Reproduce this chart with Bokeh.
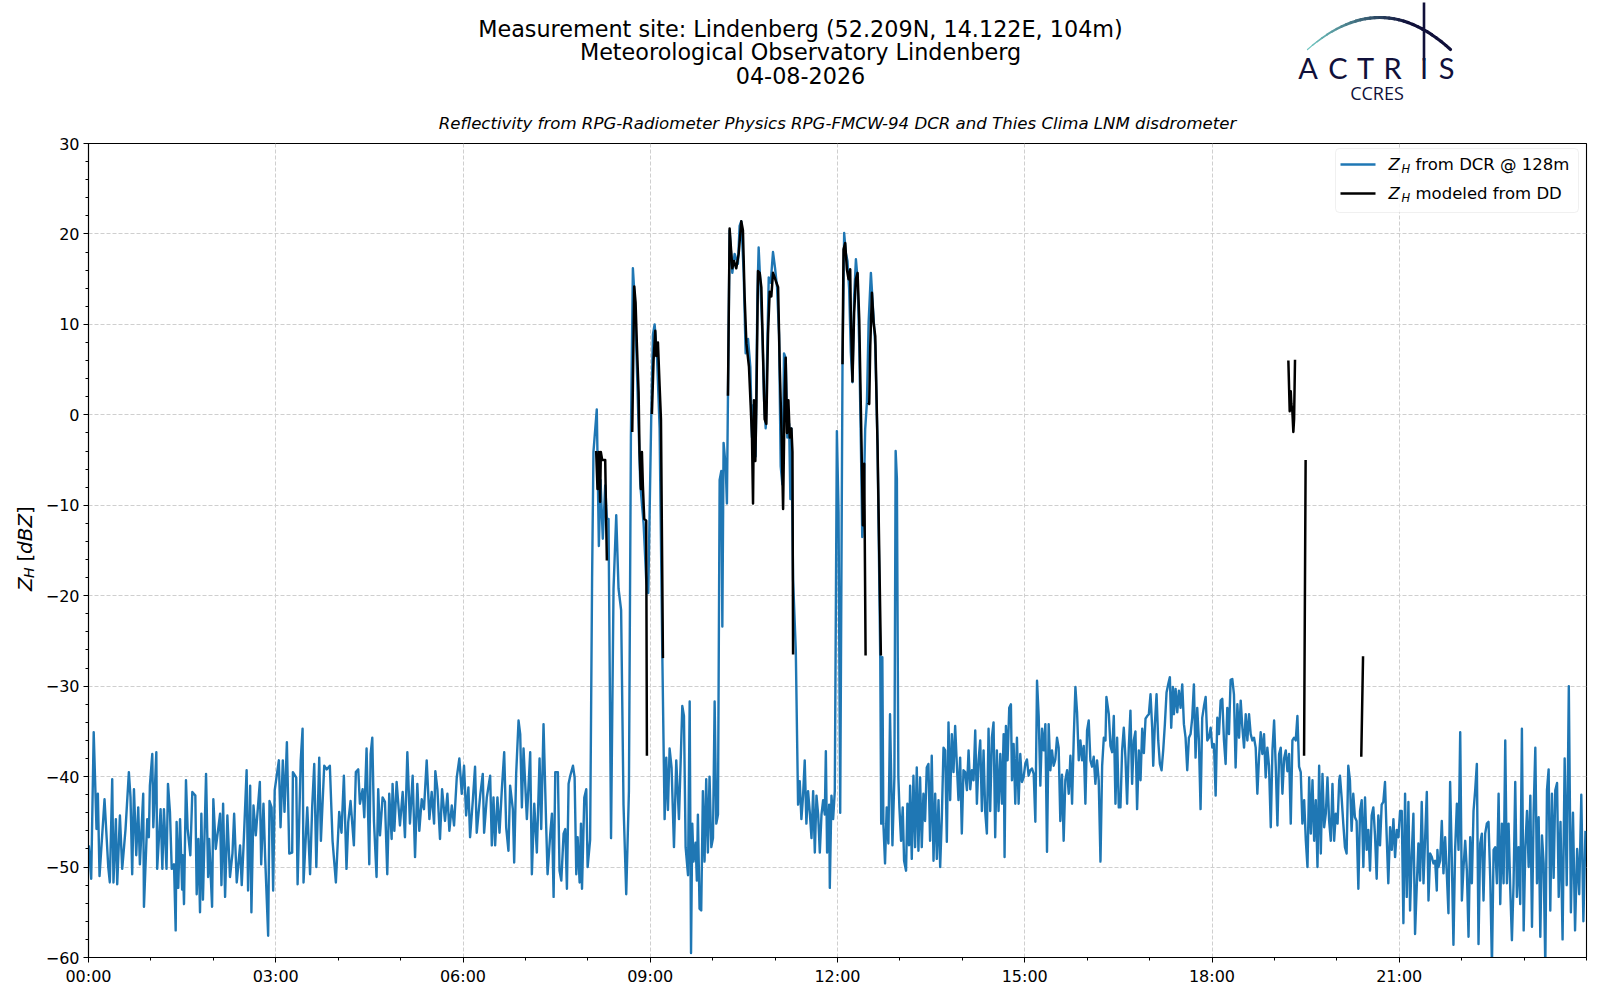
import numpy as np
from bokeh.plotting import figure
from bokeh.models import Range1d, FixedTicker, Label, BoxAnnotation, Arrow, ColumnDataSource
from bokeh.layouts import column, row
from bokeh.embed import file_html
from bokeh.resources import INLINE
from bokeh.core.properties import value

# ---------------- texts ----------------
TITLE_LINES = ["Measurement site: Lindenberg (52.209N, 14.122E, 104m)",
               "Meteorological Observatory Lindenberg",
               "04-08-2026"]
SUBTITLE = "Reflectivity from RPG-Radiometer Physics RPG-FMCW-94 DCR and Thies Clima LNM disdrometer"
LEGEND_DCR = "from DCR @ 128m"
LEGEND_DD = "modeled from DD"
LOGO_LETTERS = ["A", "C", "T", "R", "I", "S"]
LOGO_SUB = "CCRES"
YLABEL_PARTS = ["Z", "H", "[", "dBZ", "]"]

# ---------------- ticks ----------------
X_TICK_HOURS = [0, 3, 6, 9, 12, 15, 18, 21]
X_TICK_LABELS = ["00:00", "03:00", "06:00", "09:00", "12:00", "15:00", "18:00", "21:00"]
Y_TICKS = [-60, -50, -40, -30, -20, -10, 0, 10, 20, 30]
Y_TICK_LABELS = ["\u221260", "\u221250", "\u221240", "\u221230", "\u221220", "\u221210", "0", "10", "20", "30"]

# ---------------- data: (minute of day, dBZ) ----------------
dcr_points = [
 (0.3,-47.6),(2.6,-51.3),(5,-35.1),(7.7,-45.8),(9,-41.9),(10.6,-51),(15.4,-42.5),(19,-50),(20.5,-51.7),(22.8,-40.3),
 (24,-51.7),(26.3,-44.7),(27.6,-51.9),(30.2,-44.3),(32.4,-50.2),(35.6,-45.8),(38.8,-39.5),(40.4,-42.3),(42,-50.8),(43.7,-41.4),
 (45.9,-48.7),(47.8,-43.4),(49.4,-49.7),(52.6,-41.9),(53.3,-54.4),(56.5,-44.7),(58,-46.7),(59,-41),(61.3,-37.5),(62.3,-45.6),
 (65.2,-37.3),(66,-50.2),(69.3,-43.6),(71,-50.2),(72.5,-43.6),(75,-50.2),(76.4,-40.8),(78.3,-43.9),(80,-50.2),(82.2,-49.7),
 (83.8,-57),(84.7,-45),(86.3,-52.3),(88,-44.7),(90,-52.5),(90.5,-48.7),(91.8,-54.1),(93.7,-40.4),(95.3,-45.8),(97.9,-48.7),
 (99.8,-41.7),(102.7,-42.1),(104,-53),(105.6,-46.9),(107.2,-55),(108.5,-44.1),(110,-53.6),(113,-39.7),(115,-51.1),(116,-46.9),
 (118.8,-54.4),(120,-42.5),(122.3,-48),(126.5,-44.1),(127.8,-52),(129.4,-43),(131.3,-53.3),(133.5,-44.3),(136,-51.1),(138.4,-48.5),
 (140,-44.1),(142.5,-51.7),(145.7,-47.6),(147.3,-52),(149,-47.8),(152,-39.3),(153.4,-52.6),(155.4,-41),(156.6,-55),(158.6,-43.2),
 (160.8,-46.5),(164.7,-40.6),(166,-49.7),(168.2,-43),(169.8,-48.9),(172.7,-57.6),(174,-42.7),(176,-43.4),(177.5,-52.6),(179,-41.5),
 (183,-38.2),(184.6,-45.6),(186.8,-38.2),(188.4,-43.9),(190.7,-36.2),(193,-48.5),(195.8,-48.4),(196.5,-39.5),(199.7,-40.1),(201,-51.9),
 (204,-38.2),(205.8,-34.7),(206.7,-51.7),(210.3,-43.4),(213,-50.8),(215,-43.4),(217,-38.6),(219,-50),(221.8,-37.9),(223.4,-47.1),
 (226.6,-38.8),(229,-39.2),
 (232,-38.8),(234.6,-47.1),(237.8,-51.7),(239.1,-48.5),(241,-43.9),(243.2,-46.2),(245.5,-39.9),(248,-50.2),(249.7,-45),(251.9,-42.7),
 (255.1,-47.6),(257,-39.5),(259.3,-39.2),(260.9,-43),(263.5,-41.4),(265.1,-44.5),(267.3,-36.9),(269.9,-49.7),(271.2,-37.5),(272.8,-35.7),
 (274.4,-44.9),(276.9,-51.1),(278.5,-41.4),(280.2,-46.5),(282.7,-42.3),(285,-42.8),(287.2,-50.8),(289.1,-41.9),(291.4,-46.9),(292.3,-40.8),
 (294,-46),(296.2,-40.6),(299.4,-45.4),(302,-41.7),(304.2,-46.7),(306.5,-37.3),(309,-45.2),(311.6,-39.9),(313.9,-48.9),(316.1,-40.8),
 (318,-46),(320.3,-42.5),(322.5,-43.6),(325.1,-38.2),(327.7,-44.7),(329.9,-41.7),(332.2,-45.2),(333.4,-39.4),(335.4,-41.4),(337.9,-46.9),
 (339.9,-41.4),(342.7,-44.9),(345,-41.9),(346.9,-46),(349.2,-43.2),(351.4,-45.4),(354,-40.1),(356.5,-38),(358.8,-41.9),(361,-38.8),
 (363,-44.3),(365.2,-41.2),(366.8,-46.7),(369.4,-42.7),(371.6,-38.9),(373.2,-46.2),(376.5,-42.1),(379,-39.7),(380.3,-46.2),(382.9,-42.3),
 (386.1,-39.9),(387.7,-47.6),(389.3,-42.3),(390.9,-47.6),(393.1,-42.3),(395.1,-46.2),(397.3,-41.5),(399.6,-37.3),(401.5,-45.6),(403.7,-48.2),
 (405.3,-41),(407.9,-43.6),(409.2,-49.5),(411.1,-39.7),(413.4,-33.8),(415,-35.3),(416.6,-43.4),(418.2,-36.9),(421.4,-44.7),(424.6,-37.3),
 (426.2,-50.8),(428.5,-43),(431,-48.4),(433.6,-38),(435.2,-45.8),(437.4,-34.2),(440,-45.6),(441.3,-50.8),(443.9,-46.3),(445.5,-44.1),
 (447.1,-53.3),(448.7,-39.5),(451.2,-39.5),(452.8,-50.4),(454.5,-51.5),(456.7,-46.3),(458.3,-45.8),(459.9,-52.4),(461.5,-40.8),(463.1,-39.9),
 (465.7,-38.8),(467.3,-40.1),(468.9,-50.8),(470.2,-46.7),(472.1,-51.7),(473.4,-45.2),(474.4,-52.4),(476.6,-42.3),(478.5,-41.4),(479.8,-50),
 (482.2,-47),(484.1,-18),(485.4,-4.1),(488.6,0.6),(490.6,-14.5),(492.2,-7.2),(494.4,-13.7),(496.7,-7.8),(498.3,-11.5),(499.9,-11.5),
 (502.3,-46.8),(504.7,-19.2),(507.3,-11.1),(509.5,-19.2),(512,-21.6),(514.3,-43.1),(516.9,-53),(519.5,-41.6),(521.4,-2.5),(523.3,16.2),
 (525.2,12.6),(527.8,2.7),(530.4,-7.7),(533.6,-12),(536.1,-18.2),(538.1,-19.7),(541,0.1),(542.6,8.9),(544.2,10),(546.4,6.8),
 (549,-1.5),(551.6,-26.5),(553.8,-44.7),(555.4,-37.9),(557,-43.7),(558.6,-36.9),(560.5,-39),(562.8,-47.8),(565,-38.2),(567.6,-44.7),
 (570.8,-32.2),(572.4,-33.3),(574,-47.8),(576.3,-50.9),(577.9,-31.7),(579.2,-59.5),
 (580.4,-45.2),(581.6,-49.4),(583.6,-47.3),(584.8,-51.5),(585.8,-44.2),(587.4,-54.6),(589,-54.8),(590.6,-41.6),(592.2,-49.4),(593.8,-40.3),
 (595.4,-48.4),(597,-40),(598.7,-47.8),(600.3,-46.8),(601.9,-31.7),(603.5,-45.2),(605.1,-44.2),(606.7,-7.2),(608.3,-6.2),(609.3,-23.4),
 (610.5,-3.1),(612.5,-5.7),(613.7,-9.8),(614.7,2.1),(616.3,20.4),(618.9,15.7),(621.1,17.8),(624.3,16.7),(625.9,20.9),(627.5,21.4),
 (629.8,15.7),(631.7,6.8),(634,8.4),(636.2,5.3),(637.8,-2.5),(639.4,1.1),(641.3,-4.6),(643,13.1),(644.2,18.5),(645.8,14.6),
 (647.8,8.9),(649.4,1.6),(651,-1.5),(652.6,7.9),(653.9,15.2),(655.8,14.6),(658,18),(660,16.2),(661.9,14.1),(663.8,8.9),
 (665.4,-5.7),(667,-7.7),(668.6,6.8),(670.2,6.3),(671.8,-2.5),(673.5,-1),(674.7,-9.3),(675.7,-1.5),(677.3,-18.2),(679.9,-26),
 (682.1,-43.1),(683.7,-40.5),(685.3,-44.7),(686.9,-42.1),(688.5,-38.2),(690.1,-45.2),(691.7,-41.6),(693.4,-44),(695,-46.8),(696.6,-41.6),
 (698.2,-48.4),(699.8,-42.1),(701.4,-44.2),(703,-48.4),(704.6,-44.2),(706.2,-42.6),(707.8,-44.2),(708.8,-37.2),(710,-48.4),(712,-43.1),
 (712.6,-52.3),(714.2,-42.1),(715.8,-44.7),(717.4,-41.6),
 (719.4,-1.8),(721,-10.8),(722.6,-44),(724.8,5.4),(726.4,20.1),(728,17.9),(729.6,17),(731.2,13.9),(732.8,6.9),(734.4,3.6),
 (736,13.1),(737.7,17.2),(739.3,15),(740.9,7.6),(742.5,-3.4),(743.8,-13.5),(745,-10.8),(746.6,-1.6),(748.3,1.4),(749.9,10.2),
 (752.1,15.7),(754,12),(756.3,7.6),(758.5,-3.4),(761.1,-27),(762,-45.2),(763.1,-26.8),(764.1,-45.2),(765.7,-49.6),(767.3,-43.4),
 (768.9,-47.4),(770.5,-33.1),(772.8,-47.6),(774.7,-40),(775.9,-4),(777.1,-7.1),(778.5,-40),(779.5,-43.4),
 (781.1,-47.1),(782.7,-43.4),(784,-49.3),(785.9,-50.4),(787.2,-43),(788.8,-47.6),(789.8,-41),(791.4,-49.1),(793,-39.9),(794.6,-47.8),
 (796.2,-39),(797.8,-48.2),(799.4,-40.1),(801,-47.8),(802.6,-41.9),(804.2,-44.9),(805.8,-39),(807.4,-38.6),(809,-47.1),(810.6,-37.7),
 (812.3,-49.3),(813.9,-41.9),(815.5,-49.1),(817.1,-42.6),(818.7,-50),(820.3,-44.5),(821.9,-36.8),(823.5,-37.1),(825.1,-47.2),(826.7,-34),
 (828.3,-42.6),(829.9,-35.3),(831.5,-39.5),(833.1,-34.4),(834.7,-38.6),(836.3,-42.6),(837.9,-37.9),(839.5,-46.3),(841.1,-39.3),(842.7,-39.5),
 (844.4,-41.5),(846,-37.1),(847.6,-41.4),(849.2,-39.3),(850.8,-40.4),(852.4,-34.9),(854,-43),(855.6,-38.2),(857.2,-36),(858.8,-43.8),
 (860.4,-37.1),(862,-43.9),(863.6,-46.3),(865.2,-34.7),(866.8,-43.8),(868.4,-35.7),(870,-34),(871.6,-46.7),(873.2,-37.1),(874.8,-43.8),
 (876.5,-37.5),(878.1,-43),(879.7,-35.3),(880.6,-48.9),(881.9,-34.4),(883.5,-38.2),(885.1,-32.4),(886.7,-32),(887.7,-40.4),(889.3,-36.4),
 (890.9,-43),(892.5,-35.7),(894.1,-43),(895.7,-37.5),(897.3,-40.6),(898.9,-40.1),(900.5,-38.6),(902.1,-38.1),(903.7,-39.9),(905.3,-39.3),
 (906.9,-39.1),(908.6,-39.7),(910.2,-45),(911.8,-29.4),(913.4,-33.3),(915,-41),(916.6,-34.7),(918.2,-37.1),(919.8,-34.2),(921.4,-48.3),
 (923,-34.2),(924.6,-39.3),(926.2,-37.1),(927.8,-38.8),(929.4,-38.1),(931,-35.7),(932.6,-36.8),(934.2,-44.9),(935.8,-39.8),(937.4,-47.1),
 (939,-40.4),(940.7,-39.3),(942.3,-41.9),(943.9,-37.7),(945.5,-43),(947.1,-35.7),(948.7,-30.1),(950.3,-32.9),(951.9,-38.2),(953.5,-36),
 (955.1,-38.2),(956.7,-36.6),(958.3,-43),(959.9,-34.9),(961.5,-33.8),(963.1,-38.2),(964.7,-38.9),(966.3,-37.8),(967.9,-40.8),(969.5,-38.2),
 (971.1,-40.4),(972.8,-49.4),(974.4,-38.8),(976,-35.7),(977.6,-36),(978.5,-31.2),(980.8,-33.1),(982.4,-36.6),(984,-37.3),(985.6,-33.3),
 (987.2,-43),(988.8,-35.7),(990.4,-43.4),
 (992,-43.4),(993.6,-37.1),(995.2,-34.6),(996.8,-37.9),(998.4,-43),(1000,-36.8),(1001.6,-32.7),(1003.2,-40.8),(1004.8,-36),(1006.4,-35),
 (1008,-43.6),(1009.7,-37.1),(1011.3,-40.4),(1012.9,-34.7),(1014.5,-37.4),(1016.1,-33.6),(1017.7,-33.3),(1019.3,-33.1),(1020.9,-30.9),(1022.5,-34.6),
 (1023.5,-38.8),(1025.1,-34.2),(1026.7,-30.9),(1028.3,-36),(1029.9,-38.6),(1031.5,-39.3),(1033.1,-37.1),(1034.7,-34.2),(1036.3,-30.7),(1037.9,-29.8),
 (1039.5,-29),(1040.8,-34.6),(1042.4,-30.1),(1043.4,-33.1),(1045,-30.3),(1046.6,-32.9),(1048.2,-30.5),(1049.8,-32.4),(1051.4,-29.8),(1053,-34.2),
 (1054.6,-35.7),(1056.2,-39.3),(1057.8,-35.7),(1059.4,-35.3),(1061,-33.5),(1062.6,-29.8),(1064.2,-37.9),(1065.8,-32.4),(1067.4,-36),(1069,-43.6),
 (1070.6,-33.5),(1072.3,-32.2),(1073.9,-31.2),(1075.5,-36),(1077.1,-35.7),(1078.7,-34.6),(1080.3,-36.8),(1081.9,-36.4),(1083.5,-42.1),(1085.1,-33.5),
 (1086.7,-35.3),(1088.3,-31.6),(1089.9,-31.4),(1091.5,-36),(1093.1,-38.6),(1094.7,-32.4),(1096.3,-35.3),(1097.9,-29.3),(1099.5,-29.2),(1101.1,-30.9),
 (1102.7,-39),(1104.4,-32),(1106,-35.7),(1107.6,-31.6),(1109.2,-34.6),(1110.8,-36.8),(1112.4,-33.1),(1114,-36),(1115.6,-33.1),(1117.2,-35.3),
 (1118.8,-36),(1120.4,-35.7),(1122,-36.8),(1123.6,-41.9),(1125.2,-37.9),(1126.8,-35.1),(1128.4,-37.5),(1130,-35.3),(1131.6,-40.1),(1133.2,-36.8),
 (1134.8,-38.8),(1136.5,-45.6),(1138.1,-37.1),(1139.7,-33.8),(1141.3,-38.9),(1142.9,-45.4),(1144.5,-37.5),(1146.1,-36.8),(1147.7,-41.9),(1149.3,-38),
 (1150.9,-37.1),(1152.5,-39.4),(1154.1,-37.5),(1155.7,-45.2),(1157.3,-36),(1158.9,-35.7),(1160.5,-36),(1162.1,-33.3),(1163.7,-38.9),(1165.3,-39.5),
 (1166.9,-45.2),(1168.6,-42.6),(1170.2,-47.1),(1171.8,-50),(1173.4,-40.1),(1175,-46.3),(1176.6,-40.4),(1178.2,-47.1),(1179.8,-42.6),(1181.4,-50),
 (1183,-38.8),(1184.6,-48.5),(1186.2,-39.7),(1187.8,-45.6),(1189.4,-44.1),(1191,-40.1),(1192.6,-44.9),(1194.2,-47.1),(1195.8,-40.8),(1197.4,-47.1),
 (1199,-44.1),(1200.7,-45.2),(1202.3,-40.4),
 (1203,-39.9),(1204.6,-42.3),(1206.2,-45.2),(1207.8,-47.8),(1209.4,-48.5),(1211,-38.8),(1212.6,-40.4),(1214.2,-46),(1215.8,-41.9),(1217.4,-44.5),
 (1219,-44.9),(1220.7,-52.4),(1222.3,-43.8),(1223.9,-42.6),(1225.5,-50),(1227.1,-42.3),(1228.7,-48.1),(1230.3,-45.9),(1231.9,-50.4),(1233.5,-44.3),
 (1235.1,-43.4),(1236.7,-46.5),(1238.3,-51.3),(1239.9,-44.3),(1241.5,-47.6),(1243.1,-43.1),(1244.7,-42.8),(1246.3,-40.6),(1247.9,-46.5),(1249.5,-51.8),
 (1251.2,-45.6),(1252.8,-48.1),(1254.4,-44.7),(1256,-48.9),(1257.6,-45.9),(1259.2,-46.7),(1260.8,-43.8),(1262.4,-43.8),(1264,-56.2),(1265.6,-41.9),
 (1267.2,-53.3),(1268.8,-42.8),(1270.4,-54.8),(1272,-48.6),(1273.6,-44.1),(1275.2,-57.4),(1276.8,-52.2),(1278.4,-47.4),(1280,-51.5),(1281.6,-42.8),
 (1283.3,-51.8),(1284.9,-46.7),(1286.5,-41.7),(1288.1,-53.7),(1289.7,-48.5),(1291.3,-48.9),(1292.9,-49.6),(1294.5,-49.3),(1296.1,-52.6),(1296.7,-48.1),
 (1297.7,-50),(1299.3,-49.3),(1300.9,-44.9),(1302.5,-50.7),(1304.1,-46.7),(1305.7,-50.7),(1307.3,-55.1),(1308.9,-40.6),(1310.5,-48.9),(1312.1,-58.6),
 (1313.7,-48.1),(1315.4,-43),(1317,-48.1),(1318.6,-35.1),(1320.2,-53.7),(1321.8,-50),(1323.4,-47.1),(1325,-50.4),(1326.6,-57.7),(1328.2,-46.7),
 (1329.8,-51.8),(1331.4,-43.8),(1333,-41.5),(1334.6,-38.6),(1336.2,-58.5),(1337.8,-47.4),(1339.4,-46.3),(1341,-53.7),(1342.6,-46.3),(1344.2,-45.2),
 (1345.8,-45),(1347.5,-51.4),(1349.1,-61),(1350.7,-48.1),(1352.3,-47.8),(1353.9,-51.8),(1355.5,-41.9),(1357.1,-54.1),(1358.7,-45.2),(1360.3,-51.8),
 (1361.9,-36),(1363.5,-51.8),(1365.1,-45.2),(1366.7,-52.4),(1368.3,-58.1),(1369.9,-51.8),(1371.5,-40.6),(1373.1,-53.3),(1374.7,-47.8),(1376.3,-54.1),
 (1377.9,-34.7),(1379.6,-57),(1381.2,-47.8),(1382.8,-43.8),(1384.4,-50),(1386,-42.1),(1387.6,-56.6),(1389.2,-43.8),(1390.8,-36.8),(1392.4,-51.8),
 (1394,-44.5),(1395.6,-57.7),(1397.2,-46.5),(1398.8,-49.6),(1400.4,-61),(1402,-41.5),(1403.6,-39.2),(1405.2,-54.8),(1406.8,-41.9),(1408.4,-51.2),
 (1410,-41.5),(1411.7,-40.7),(1413.3,-53.3),
 (1415,-45),(1417,-58),(1419,-38),(1421,-52),(1423,-30),(1425,-55),(1427,-44),(1429,-57),(1431,-48),(1433,-53),
 (1435,-42),(1437,-56),(1439,-46),
]

dd_segments = [
 [(488,-4),(489.3,-8.2),(490.6,-4.1),(491.8,-9.6),(492.5,-4.1),(493.8,-5),(496.7,-5),(497.6,-11.5),(498.3,-16.1)],
 [(522.7,-1.9),(524.6,14.2),(525.9,12.4),(527.2,7.6),(528.8,2.5),(529.7,-4.1),(531,-8.2),(532,-4.1),(532.9,-7.8),(534.2,-11.5),(536.1,-11.7),(536.8,-37.7)],
 [(541.6,0.1),(543.2,6.1),(544.8,9.3),(545.8,6.5),(547.4,8),(549,3.2),(550.3,-0.5),(552.2,-26.9)],
 [(614.7,2.1),(616.3,20.6),(618.9,16.2),(620.5,17),(622.7,16.2),(625,17.8),(627.5,21.4),(629.1,20.4),(630.7,13.1),(632.4,7.9),
  (634.9,5.3),(636.5,1.1),(637.8,-2.5),(638.8,-9.8),(639.7,1.6),(641,-5.1),(642,1.1),(643.6,15.9),(645.2,15.7),(646.8,14.1),
  (648.4,6.8),(650,-0.5),(651.6,-1),(653.2,8.9),(654.8,13.6),(656.4,13.1),(658,15.7),(659.6,15.2),(661.3,14.6),(662.9,14.1),
  (664.5,5.3),(666.1,-1.5),(667.7,-10.4),(669.3,2.7),(670.2,6.3),(671.5,-2),(672.8,1.6),(674.1,-2.5),(675.7,-1.5),(676.7,-4.1),(677.3,-26.5)],
 [(724.8,5.6),(725.8,18.3),(727.4,19),(729,16.1),(730.6,15),(732.2,16.1),(732.8,11.3),(734.4,3.7),(736,11.3),(737.7,15),
  (739.3,15.7),(740.9,10.6),(743.4,-5.3),(744.4,-12.2),(745.7,-5.4),(747,-26.6)],
 [(749.2,1.4),(750.5,1.2),(751.5,7.6),(753.1,13.5),(754.7,10.2),(756.3,8.7),(758.5,-3.4),(761.7,-26.6)],
 [(1153.4,6),(1154.7,0.4),(1155.7,2.6),(1156.3,1.2),(1157.3,0.3),(1158.2,-1.9),(1158.9,-0.5),(1159.8,6.1)],
 [(1168.5,-37.7),(1170,-5)],
 [(1223.5,-37.8),(1225.2,-26.7)],
]

# ---------------- build series ----------------
dcr_sorted = sorted(dcr_points)
t_dcr = [m / 60.0 for m, _ in dcr_sorted]
z_dcr = [v for _, v in dcr_sorted]
t_dd, z_dd = [], []
for seg in dd_segments:
    for m, v in seg:
        t_dd.append(m / 60.0)
        z_dd.append(v)
    t_dd.append(np.nan)
    z_dd.append(np.nan)

BLUE = "#1f77b4"
NAVY = "#10103a"
FONT = "DejaVu Sans"

# page geometry (pixels from the page's top-left)
YL_W = 40                      # width of the y-label strip
MAIN_BL, MAIN_BR = 48, 6       # main borders -> frame from x=88 to x=1586
MAIN_W = 1552
HEAD_H = 133
MAIN_BT, MAIN_BB = 10, 34
MAIN_H = MAIN_BT + 814 + MAIN_BB
FRAME_L = YL_W + MAIN_BL
FRAME_R = YL_W + MAIN_W - MAIN_BR

def blank(fig):
    fig.axis.visible = False
    fig.grid.visible = False
    fig.outline_line_color = None
    fig.background_fill_color = "white"
    fig.border_fill_color = "white"

# ---------------- header figure (x,y in page pixels) ----------------
head = figure(width=MAIN_W, height=HEAD_H, x_range=Range1d(FRAME_L, FRAME_R), y_range=Range1d(HEAD_H, 0),
              toolbar_location=None, output_backend="svg",
              min_border_left=MAIN_BL, min_border_right=MAIN_BR, min_border_top=0, min_border_bottom=0)
blank(head)
head.text(x=[800, 800, 800], y=[28.6, 51.1, 74.6], text=TITLE_LINES,
          text_font=value(FONT), text_font_size=value("22.3px"), text_color="black",
          text_align=value("center"), text_baseline=value("middle"))
head.text(x=[837], y=[123.0], text=[SUBTITLE], text_font=value(FONT), text_font_style=value("italic"),
          text_font_size=value("16.6px"), text_color="black",
          text_align=value("center"), text_baseline=value("middle"))

# logo: arc with teal->navy gradient, antenna line, letters
p0, c, p2 = np.array([1307.0, 49.0]), np.array([1380.0, -15.0]), np.array([1450.0, 49.0])
ss = np.linspace(0, 1, 31)
pts = [(1 - s) ** 2 * p0 + 2 * (1 - s) * s * c + s ** 2 * p2 for s in ss]
c0, c1 = np.array([112, 198, 192]), np.array([16, 16, 58])
xs, ys, cols, wid = [], [], [], []
for i in range(len(pts) - 1):
    f = min(1.0, (i / (len(pts) - 2)) * 1.4)
    col = (1 - f) * c0 + f * c1
    xs.append([pts[i][0], pts[i + 1][0]])
    ys.append([pts[i][1], pts[i + 1][1]])
    cols.append("#%02x%02x%02x" % tuple(int(round(v)) for v in col))
    wid.append(1.2 + 2.0 * min(1.0, i / 10.0))
head.multi_line(xs="xs", ys="ys", line_color="c", line_width="w", line_cap="round",
                source=ColumnDataSource(dict(xs=xs, ys=ys, c=cols, w=wid)))
head.line(x=[1423.5, 1423.5], y=[2, 60], line_color=NAVY, line_width=2.6)
head.text(x=[1307.5, 1337.5, 1365, 1392, 1423.5, 1446], y=[67.0] * 6, text=LOGO_LETTERS,
          text_font=value("Lato"), text_font_size=value("29px"), text_color=NAVY,
          text_align=value("center"), text_baseline=value("middle"))
head.text(x=[1376.5], y=[92.0], text=[LOGO_SUB], text_font=value("Open Sans"),
          text_font_size=value("18px"), text_color=NAVY,
          text_align=value("center"), text_baseline=value("middle"))

# ---------------- y-label strip (x,y in page pixels) ----------------
TOTAL_H = HEAD_H + MAIN_H
ylab = figure(width=YL_W, height=TOTAL_H, x_range=Range1d(0, YL_W), y_range=Range1d(TOTAL_H, 0),
              toolbar_location=None, output_backend="svg",
              min_border_left=0, min_border_right=0, min_border_top=0, min_border_bottom=0)
blank(ylab)
ylab.text(x=[24.5, 28.5, 24.5, 24.5, 24.5], y=[590.5, 577.5, 561.0, 553.5, 513.5], text=YLABEL_PARTS,
          angle=np.pi / 2,
          text_font=value(FONT), text_font_size=["20px", "14px", "20px", "20px", "20px"],
          text_font_style=["italic", "italic", "normal", "italic", "normal"],
          text_color="black", text_align=value("left"), text_baseline=value("middle"))

# ---------------- main figure ----------------
p = figure(width=MAIN_W, height=MAIN_H, x_range=Range1d(0, 24), y_range=Range1d(-60, 30),
           toolbar_location=None, output_backend="svg",
           min_border_left=MAIN_BL, min_border_right=MAIN_BR, min_border_top=MAIN_BT, min_border_bottom=MAIN_BB)
p.background_fill_color = "white"
p.border_fill_color = "white"
p.outline_line_color = "black"
p.outline_line_width = 1.1

p.line(t_dcr, z_dcr, line_color=BLUE, line_width=2.4, line_join="round")
p.line(t_dd, z_dd, line_color="black", line_width=2.5, line_join="round")

p.xaxis.ticker = FixedTicker(ticks=X_TICK_HOURS, minor_ticks=list(range(0, 25)))
p.xaxis.major_label_overrides = {h: lab for h, lab in zip(X_TICK_HOURS, X_TICK_LABELS)}
p.yaxis.ticker = FixedTicker(ticks=Y_TICKS, minor_ticks=list(range(-60, 31, 2)))
p.yaxis.major_label_overrides = {t: lab for t, lab in zip(Y_TICKS, Y_TICK_LABELS)}
for ax in (p.xaxis[0], p.yaxis[0]):
    ax.major_label_text_font = FONT
    ax.major_label_text_font_size = "16px"
    ax.major_label_text_color = "black"
    ax.axis_line_color = "black"
    ax.axis_line_width = 1.1
    ax.major_tick_line_color = "black"
    ax.minor_tick_line_color = "black"
    ax.major_tick_out = 5
    ax.major_tick_in = 0
    ax.minor_tick_out = 3
    ax.minor_tick_in = 0
    ax.major_label_standoff = 4
for g in (p.xgrid[0], p.ygrid[0]):
    g.grid_line_color = "#cfcfcf"
    g.grid_line_dash = "4 2"
    g.grid_line_width = 1

def lab(x, y, text, size, style="normal"):
    p.add_layout(Label(x=x, y=y, x_units="screen", y_units="screen", text=text,
                       text_font=FONT, text_font_size=size, text_font_style=style,
                       text_color="black", text_align="left", text_baseline="middle"))

# legend (screen units relative to the plot frame, y upwards)
p.add_layout(BoxAnnotation(left=1247, right=1490, top=809, bottom=745,
                           left_units="screen", right_units="screen", top_units="screen", bottom_units="screen",
                           fill_color="white", fill_alpha=0.85, line_color="#cccccc", line_width=1,
                           border_radius=4))
for yy, col, txt in ((793, BLUE, LEGEND_DCR), (764, "black", LEGEND_DD)):
    p.add_layout(Arrow(x_start=1252, y_start=yy, x_end=1287, y_end=yy,
                       start_units="screen", end_units="screen", start=None, end=None,
                       line_color=col, line_width=2.4))
    lab(1300, yy, "Z", "16.5px", "italic")
    lab(1313, yy - 4, "H", "11.5px", "italic")
    lab(1327, yy, txt, "16.5px")

layout = row(ylab, column(head, p, spacing=0), spacing=0)
open("out.html", "w").write(file_html(layout, INLINE))
